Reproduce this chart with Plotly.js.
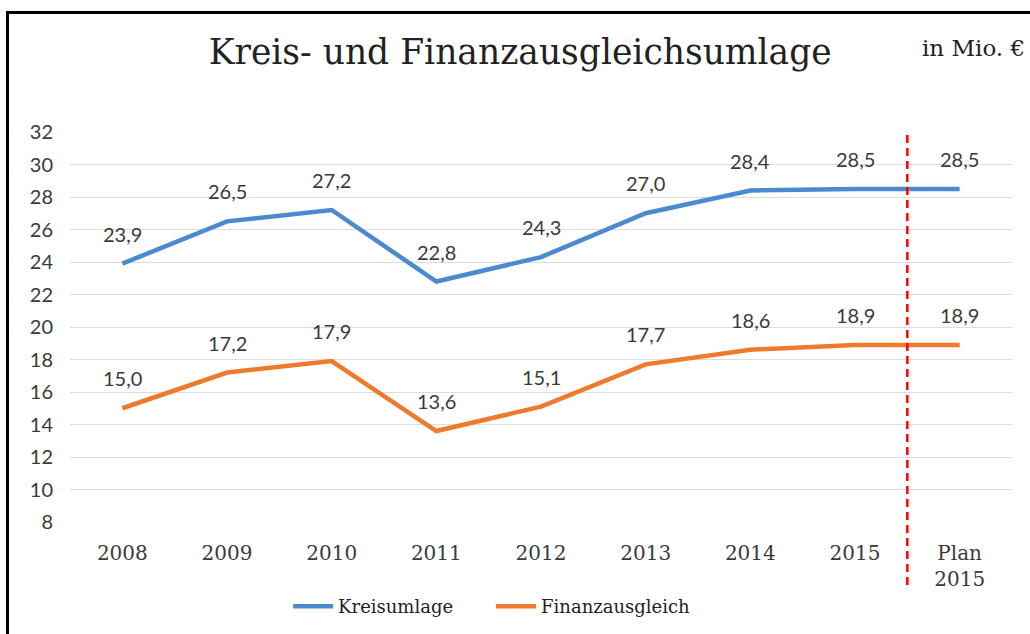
<!DOCTYPE html>
<html>
<head>
<meta charset="utf-8">
<script src="https://cdn.plot.ly/plotly-3.0.1.min.js"></script>
<style>
  html, body { margin: 0; padding: 0; background: #fff; }
  #wrap { position: relative; width: 1030px; height: 634px; overflow: hidden; }
  #chart { width: 1030px; height: 634px; }
  #frame { position: absolute; left: 6px; top: 11px; right: -10px; bottom: -10px;
           border-top: 3px solid #000; border-left: 3px solid #000; pointer-events: none; }
</style>
</head>
<body>
<div id="wrap">
  <div id="chart"></div>
  <div id="frame"></div>
</div>
<script>
const categories = ["2008", "2009", "2010", "2011", "2012", "2013", "2014", "2015", "Plan<br>2015"];
const kreisumlage = [23.9, 26.5, 27.2, 22.8, 24.3, 27.0, 28.4, 28.5, 28.5];
const finanzausgleich = [15.0, 17.2, 17.9, 13.6, 15.1, 17.7, 18.6, 18.9, 18.9];
const yTicks = [8, 10, 12, 14, 16, 18, 20, 22, 24, 26, 28, 30, 32];
const seriesNames = ["Kreisumlage", "Finanzausgleich"];
const titleText = "Kreis- und Finanzausgleichsumlage";
const unitText = "in Mio. €";

const blue = "#4a8bd0";
const orange = "#ee7a2e";
const textCol = "#3a3a3a";
const serif = "DejaVu Serif, serif";
const sans = "Lato, Open Sans, sans-serif";

const traces = [
  { x: categories, y: kreisumlage, name: seriesNames[0], type: "scatter", mode: "lines",
    line: { color: blue, width: 4.5 }, hoverinfo: "skip" },
  { x: categories, y: finanzausgleich, name: seriesNames[1], type: "scatter", mode: "lines",
    line: { color: orange, width: 4.5 }, hoverinfo: "skip" }
];

const fmt = v => v.toFixed(1).replace(".", ",");
const annotations = [];
[kreisumlage, finanzausgleich].forEach(series => {
  series.forEach((v, i) => {
    annotations.push({ x: i, y: v, xref: "x", yref: "y", text: fmt(v),
      showarrow: false, yshift: 30, font: { family: sans, size: 20, color: textCol } });
  });
});
annotations.push({ x: 1.016, y: 1.215, xref: "paper", yref: "paper", text: unitText,
  showarrow: false, xanchor: "right", yanchor: "middle",
  font: { family: serif, size: 23, color: "#222" } });

const layout = {
  width: 1030, height: 634,
  margin: { l: 70, r: 18, t: 132, b: 112, autoexpand: false },
  paper_bgcolor: "#fff", plot_bgcolor: "#fff",
  title: { text: titleText, x: 0.505, xanchor: "center", y: 0.918, yanchor: "middle",
    font: { family: serif, size: 34.5, color: "#222" } },
  xaxis: { type: "category", range: [-0.5, 8.5], showgrid: false, zeroline: false,
    showline: false, ticks: "", ticklabelstandoff: 17, automargin: false,
    tickfont: { family: serif, size: 20, color: textCol } },
  yaxis: { range: [8, 32], tickvals: yTicks, ticktext: yTicks.map(String), showgrid: true,
    gridcolor: "#dcdcdc", gridwidth: 1, zeroline: false, showline: false, ticks: "",
    ticklabelstandoff: 16, automargin: false, tickfont: { family: sans, size: 20, color: textCol } },
  showlegend: true,
  legend: { orientation: "h", x: 0.447, xanchor: "center", y: -0.217, yanchor: "middle",
    font: { family: serif, size: 18, color: "#222" }, itemwidth: 40, entrywidth: 148,
    tracegroupgap: 0 },
  annotations: annotations,
  shapes: [
    { type: "line", xref: "x", yref: "paper", x0: 7.5, x1: 7.5, y0: 0.992, y1: -0.162,
      line: { color: "#ff0000", width: 2.5, dash: "8px,5px" } }
  ]
};

Plotly.newPlot("chart", traces, layout, { displayModeBar: false, staticPlot: true });
</script>
</body>
</html>
